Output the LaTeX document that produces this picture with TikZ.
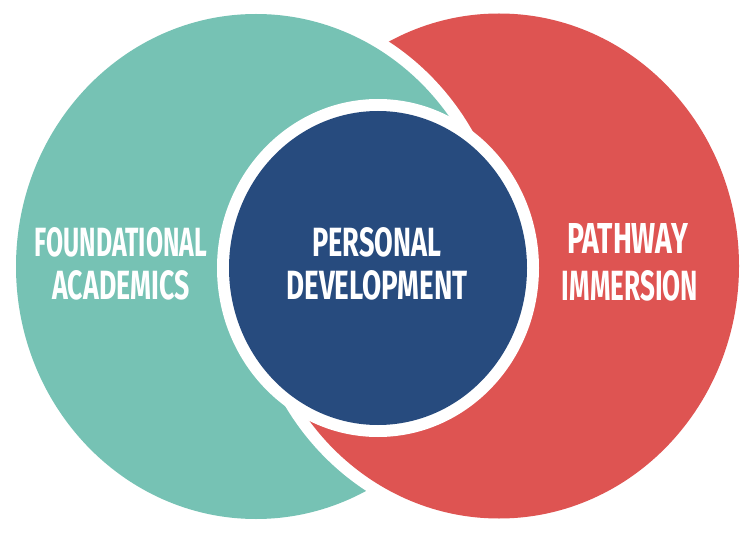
\documentclass[tikz,border=0pt]{standalone}
\usepackage{graphicx}
\usepackage{fontspec}
\newfontfamily\labelfont{Fira Sans}
\definecolor{tealc}{HTML}{76C2B4}
\definecolor{redc}{HTML}{DE5452}
\definecolor{bluec}{HTML}{274B7E}
\tikzset{caplbl/.style={text=white, inner sep=0pt, font=\labelfont\bfseries}}
% #1 name, #2 x, #3 y, #4 width, #5 height, #6 text
\newcommand\caplabel[6]{%
  \node[caplbl] (#1) at (#2,#3) {\resizebox{#4pt}{#5pt}{#6}};
}
\begin{document}
\begin{tikzpicture}[x=1pt,y=-1pt]
\useasboundingbox (0,0) rectangle (750,548);
\fill[white] (0,0) rectangle (750,548);
% red circle (back)
\fill[redc] (499,266) ellipse [x radius=240, y radius=252.5];
% teal circle in front with white gap
\fill[white] (256,266.5) ellipse [x radius=252, y radius=264.5];
\fill[tealc] (256,266.5) ellipse [x radius=240, y radius=252.5];
% red in front at the bottom
\begin{scope}
  \clip (0,266) rectangle (750,548);
  \fill[white] (499,266) ellipse [x radius=252, y radius=264.5];
  \fill[redc] (499,266) ellipse [x radius=240, y radius=252.5];
\end{scope}
% central circle
\fill[white] (378,268) ellipse [x radius=161, y radius=169];
\fill[bluec] (378,268) ellipse [x radius=149, y radius=157];
% labels
\caplabel{f1}{121}{242.5}{172}{29}{FOUNDATIONAL}
\caplabel{f2}{121}{285.5}{137}{29}{ACADEMICS}
\caplabel{p1}{377}{242.5}{129}{29}{PERSONAL}
\caplabel{p2}{377}{285.5}{181}{29}{DEVELOPMENT}
\caplabel{w1}{627.5}{238.5}{121}{30}{PATHWAY}
\caplabel{w2}{630}{285.5}{136}{30}{IMMERSION}
\end{tikzpicture}
\end{document}
